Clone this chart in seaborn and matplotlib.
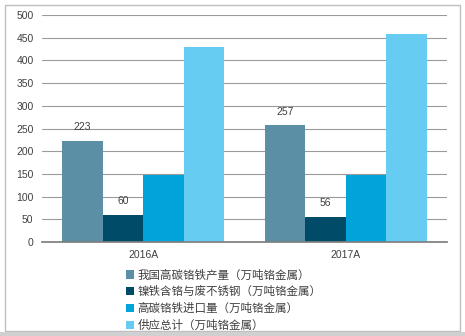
import matplotlib
matplotlib.use("Agg")
import matplotlib.pyplot as plt
import seaborn as sns
import pandas as pd
from matplotlib.patches import Rectangle

years = ["2016A", "2017A"]
series = ["我国高碳铬铁产量（万吨铬金属）", "镍铁含铬与废不锈钢（万吨铬金属）",
          "高碳铬铁进口量（万吨铬金属）", "供应总计（万吨铬金属）"]
production = [223, 257]
nickel_scrap = [60, 56]
imports = [148, 148]
total = [430, 459]
colors = ["#5B8FA6", "#004C68", "#00A3DA", "#66CCF2"]

rows = []
for s, vals in zip(series, [production, nickel_scrap, imports, total]):
    for y, v in zip(years, vals):
        rows.append({"year": y, "series": s, "value": v})
df = pd.DataFrame(rows)

sns.set_theme(style="white")
plt.rcParams['font.family'] = ['Liberation Sans', 'Noto Sans CJK SC', 'DejaVu Sans']

fig = plt.figure(figsize=(4.65, 3.36), dpi=100)
ax = fig.add_axes([0.09, 0.28, 0.871, 0.675])
sns.barplot(data=df, x="year", y="value", hue="series", hue_order=series,
            palette=colors, width=0.8, saturation=1, ax=ax, errorbar=None,
            linewidth=0, edgecolor="none")

ax.set_ylim(0, 500)
ax.set_yticks(range(0, 501, 50))
ax.set_xlim(-0.5, 1.5)
ax.yaxis.grid(True, color="#9a9a9a", linewidth=0.8)
ax.set_axisbelow(True)
for sp in ["left", "right", "top"]:
    ax.spines[sp].set_visible(False)
ax.spines["bottom"].set_color("#7f7f7f")
ax.tick_params(axis="both", length=0, labelsize=7.5, colors="#404040", pad=6)
ax.set_xlabel("")
ax.set_ylabel("")

for i in [0, 1]:
    ax.bar_label(ax.containers[i], fontsize=7.5, color="#404040", padding=6)

handles, labels = ax.get_legend_handles_labels()
ax.get_legend().remove()
fig.legend(handles, labels, loc="upper left", bbox_to_anchor=(0.258, 0.215),
           frameon=False, fontsize=8.3, handlelength=0.7, handleheight=0.7,
           handletextpad=0.3, labelspacing=0.42, borderpad=0, labelcolor="#404040")

fig.patches.append(Rectangle((0.011, 0.015), 0.978, 0.97, transform=fig.transFigure,
                             fill=False, edgecolor="#bfbfbf", linewidth=1))
fig.patches.append(Rectangle((0.0, 0.0), 1.0, 0.012, transform=fig.transFigure,
                             facecolor="#d0d0d0", edgecolor="none"))

fig.savefig("out.png", dpi=100)
